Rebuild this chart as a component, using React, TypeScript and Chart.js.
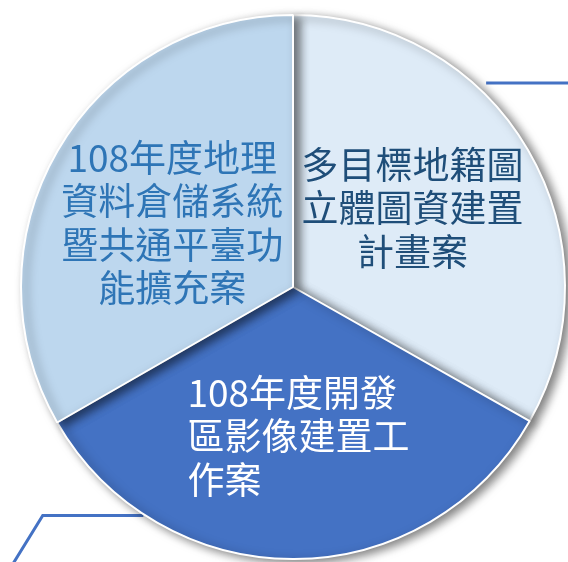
import React, { useEffect, useRef } from "react";
import { Chart, registerables } from "chart.js";

Chart.register(...registerables);

// ---- data ----
const categories = [
  "多目標地籍圖立體圖資建置計畫案",
  "108年度開發區影像建置工作案",
  "108年度地理資料倉儲系統暨共通平臺功能擴充案",
];
const shares = [33.2, 33.5, 33.3];
const labelLines = [
  ["多目標地籍圖", "立體圖資建置", "計畫案"],
  ["108年度開發", "區影像建置工", "作案"],
  ["108年度地理", "資料倉儲系統", "暨共通平臺功", "能擴充案"],
];

// ---- styles ----
const sliceColors = ["#DEEBF7", "#4472C4", "#BDD7EE"];
const textColors = ["#1F4E79", "#FFFFFF", "#2E75B6"];
const textAlign: ("center" | "left")[] = ["center", "left", "center"];
const labelRadius = 0.53;
const labelShift = [
  [-5, -6],
  [5, 5],
  [4, 8],
];
const FONT = '37px "Noto Sans CJK TC", "Noto Sans CJK SC", sans-serif';
const LINE_H = 43.5;
const accent = "#4472C4";

const decoPlugin = {
  id: "decoAndShadow",
  beforeDatasetsDraw(chart: any) {
    const ctx = chart.ctx;
    const meta = chart.getDatasetMeta(0);
    const arc = meta.data[0];
    if (!arc) return;
    const { x, y, outerRadius } = arc.getProps(["x", "y", "outerRadius"], true);
    ctx.save();
    ctx.strokeStyle = accent;
    ctx.lineWidth = 3;
    ctx.lineCap = "butt";
    // top-right leader
    ctx.beginPath();
    ctx.moveTo(x + outerRadius * 0.71, y - outerRadius * 0.75);
    ctx.lineTo(chart.width + 5, y - outerRadius * 0.75);
    ctx.stroke();
    // bottom-left leader
    ctx.beginPath();
    ctx.moveTo(x - outerRadius * 1.03, chart.height + 2);
    ctx.lineTo(x - outerRadius * 0.92, y + outerRadius * 0.84);
    ctx.lineTo(x - outerRadius * 0.55, y + outerRadius * 0.84);
    ctx.stroke();
    ctx.restore();

    ctx.save();
    ctx.shadowColor = "rgba(0,0,0,0.5)";
    ctx.shadowBlur = 10;
    ctx.shadowOffsetX = 5;
    ctx.shadowOffsetY = 3;
  },
  afterDatasetsDraw(chart: any) {
    chart.ctx.restore();
  },
};

const labelPlugin = {
  id: "sliceLabels",
  afterDraw(chart: any) {
    const ctx = chart.ctx;
    const meta = chart.getDatasetMeta(0);
    ctx.save();
    ctx.font = FONT;
    ctx.textBaseline = "middle";
    meta.data.forEach((arc: any, i: number) => {
      const { x, y, startAngle, endAngle, outerRadius } = arc.getProps(
        ["x", "y", "startAngle", "endAngle", "outerRadius"],
        true
      );
      const mid = (startAngle + endAngle) / 2;
      const r = outerRadius * labelRadius;
      const px = x + Math.cos(mid) * r + labelShift[i][0];
      const py = y + Math.sin(mid) * r + labelShift[i][1];
      const lines = labelLines[i];
      const maxW = Math.max(...lines.map((l) => ctx.measureText(l).width));
      ctx.fillStyle = textColors[i];
      ctx.textAlign = textAlign[i];
      const tx = textAlign[i] === "left" ? px - maxW / 2 : px;
      const top = py - ((lines.length - 1) * LINE_H) / 2;
      lines.forEach((line, k) => {
        ctx.fillText(line, tx, top + k * LINE_H);
      });
    });
    ctx.restore();
  },
};

export default function App() {
  const ref = useRef<HTMLCanvasElement | null>(null);
  useEffect(() => {
    if (!ref.current) return;
    const chart = new Chart(ref.current, {
      type: "pie",
      data: {
        labels: categories,
        datasets: [
          {
            data: shares,
            backgroundColor: sliceColors,
            borderColor: "#FFFFFF",
            borderWidth: 2,
          },
        ],
      },
      options: {
        responsive: false,
        animation: false,
        layout: { padding: { left: 20, right: 2, top: 14, bottom: 2 } },
        plugins: {
          legend: { display: false },
          tooltip: { enabled: false },
        },
      },
      plugins: [decoPlugin, labelPlugin],
    });
    return () => chart.destroy();
  }, []);
  return (
    <div style={{ position: "fixed", left: 0, top: 0, width: 568, height: 562, background: "#fff" }}>
      <canvas ref={ref} width={568} height={562} style={{ width: 568, height: 562, display: "block" }} />
    </div>
  );
}
